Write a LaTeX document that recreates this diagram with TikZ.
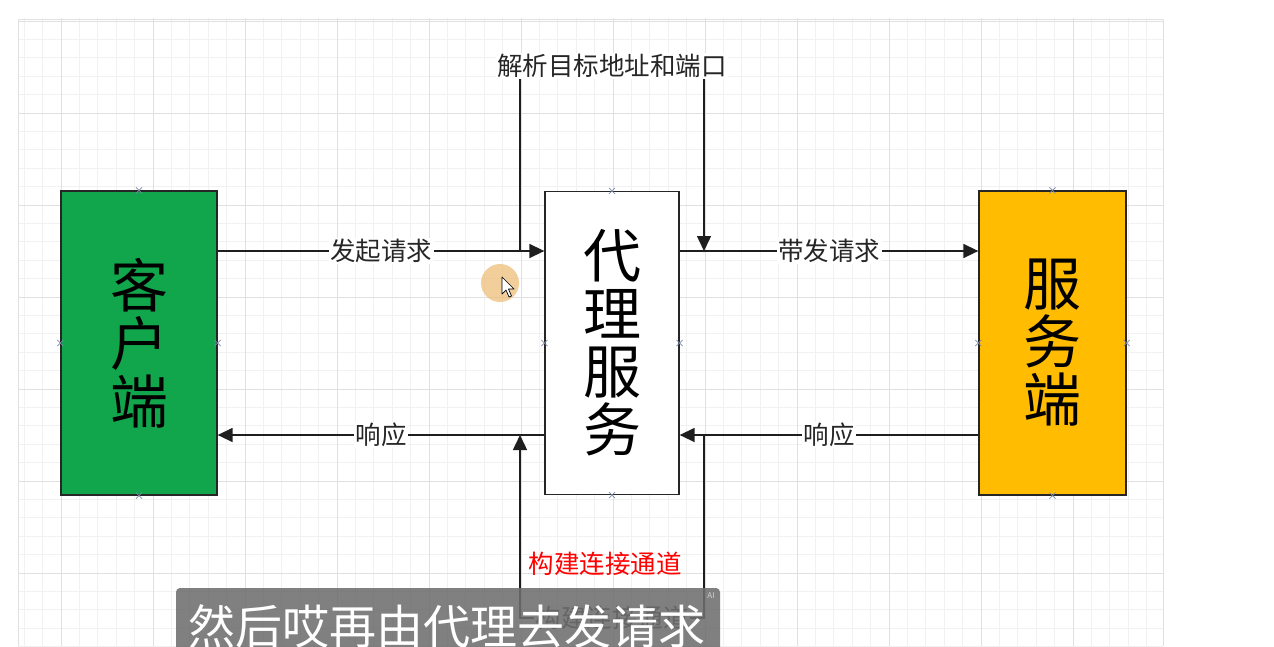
\documentclass[tikz,border=0pt]{standalone}
\usepackage{fontspec}
\newfontfamily\cjk{Noto Sans CJK SC}
\usetikzlibrary{arrows.meta}
\definecolor{clientgreen}{RGB}{18,166,76}
\definecolor{serverorange}{RGB}{255,188,0}
\definecolor{gridminor}{RGB}{241,241,241}
\definecolor{gridmajor}{RGB}{224,224,224}
\definecolor{linkline}{RGB}{30,30,30}
\definecolor{handlecol}{RGB}{125,140,170}
\definecolor{captionbg}{RGB}{110,110,110}
\definecolor{halo}{RGB}{236,190,120}
\begin{document}
\begin{tikzpicture}[x=1pt,y=-1pt,
  box/.style={draw=black!85, line width=1.3pt, inner sep=0pt, align=center,
    font=\cjk\fontsize{58}{58}\selectfont},
  conn/.style={draw=linkline, line width=1.5pt},
  tip/.style={-{Triangle[length=15pt,width=14pt]}},
  lbl/.style={fill=white, inner sep=1.5pt, text=black!85,
    font=\cjk\fontsize{25.5}{25.5}\selectfont},
  note/.style={inner sep=1pt, text=red, font=\cjk\fontsize{25.5}{25.5}\selectfont},
  handle/.style={draw=handlecol, line width=0.8pt},
]
\useasboundingbox (0,0) rectangle (1274,646);
\begin{scope}
\clip (0,0) rectangle (1274,646);

% canvas grid
\begin{scope}
  \clip (18,18) rectangle (1163,646);
  \foreach \i in {-3,...,60}
    \draw[gridminor, line width=0.8pt] ({61+18.4*\i},18) -- ({61+18.4*\i},646);
  \foreach \j in {-6,...,30}
    \draw[gridminor, line width=0.8pt] (18,{113+18.4*\j}) -- (1163,{113+18.4*\j});
  \foreach \i in {0,...,12}
    \draw[gridmajor, line width=1pt] ({61+92*\i},18) -- ({61+92*\i},646);
  \foreach \j in {-1,...,6}
    \draw[gridmajor, line width=1pt] (18,{113+92*\j}) -- (1163,{113+92*\j});
\end{scope}
\draw[gridmajor, line width=0.8pt] (18,646) -- (18,19) -- (1163,19) -- (1163,646);

% main boxes
\node[box, fill=clientgreen, minimum width=156pt, minimum height=304pt] (client) at (139,343) {客\\户\\端};
\node[box, fill=white, minimum width=134pt, minimum height=303pt] (proxy) at (612,343) {代\\理\\服\\务};
\node[box, fill=serverorange, minimum width=147pt, minimum height=304pt] (server) at (1052.5,343) {服\\务\\端};

% levels of the request and response lines
\coordinate (yreq) at (0,251);
\coordinate (yresp) at (0,435);

% taps on the lines, and corners of the two side loops
\coordinate (tapL) at (520,251);
\coordinate (tapR) at (704,251);
\coordinate (topL) at (520,66);
\coordinate (topR) at (704,66);
\coordinate (retR) at (704,435);
\coordinate (retL) at (520,435);
\coordinate (botR) at (704,618);
\coordinate (botL) at (520,618);

% request path
\draw[conn, tip] (client.east |- yreq) -- (proxy.west |- yreq)
  node[lbl, midway] {发起请求};
\draw[conn, tip] (proxy.east |- yreq) -- (server.west |- yreq)
  node[lbl, midway] {带发请求};

% response path
\draw[conn, tip] (server.west |- yresp) -- (proxy.east |- yresp)
  node[lbl, midway] {响应};
\draw[conn, tip] (proxy.west |- yresp) -- (client.east |- yresp)
  node[lbl, midway] {响应};

% address resolution loop above the proxy
\draw[conn, tip] (tapL) -- (topL) -- (topR)
  node[lbl, midway] {解析目标地址和端口} -- (tapR);

% tunnel loop below the proxy
\draw[conn, tip] (retR) -- (botR) -- (botL)
  node[lbl, midway] (tunnel) {构建连接通道} -- (retL);
\node[note] (tunnelnote) at (605,564) {构建连接通道};

% connection handles on the box edges
\foreach \b in {client,proxy,server}
  \foreach \a in {north,south,west,east}
    \draw[handle] ([shift={(-3pt,-3pt)}]\b.\a) -- ([shift={(3pt,3pt)}]\b.\a)
                  ([shift={(-3pt,3pt)}]\b.\a) -- ([shift={(3pt,-3pt)}]\b.\a);

% pointer with highlight
\fill[halo, opacity=0.75] (500,283) circle (19pt);
\draw[black, fill=white, line width=0.7pt, line join=round]
  (502,277) -- (502,294) -- (506,290) -- (509,297) -- (511.5,296) -- (508.5,289) -- (514,289) -- cycle;

% caption bar
\fill[captionbg, fill opacity=0.88, rounded corners=4pt] (176,588) rectangle (720,670);
\node[text=white, inner sep=0pt, font=\cjk\fontsize{47}{47}\selectfont] (caption) at (447,627) {然后哎再由代理去发请求};
\node[text=white!70!captionbg, inner sep=0pt, font=\cjk\fontsize{8}{8}\selectfont] (badge) at (711,596) {AI};
\end{scope}
\end{tikzpicture}
\end{document}
